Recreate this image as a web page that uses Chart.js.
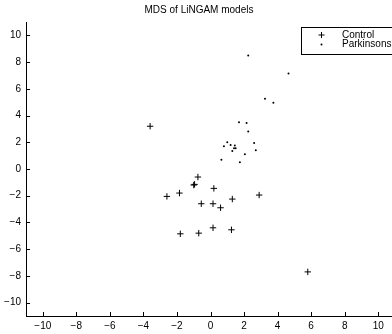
<!DOCTYPE html>
<html>
<head>
<meta charset="utf-8">
<script src="https://cdn.jsdelivr.net/npm/chart.js@4"></script>
<style>
  html, body { margin: 0; padding: 0; background: #fff; overflow: hidden; }
  #wrap { width: 400px; height: 334px; }
</style>
</head>
<body>
<div id="wrap"><canvas id="chart"></canvas></div>
<script>
const controlX = [-3.6, -0.75, -1.0, -0.95, 0.2, -1.85, -2.6, 1.3, 2.9, -0.55, 0.15, 0.6, -1.8, -0.7, 0.15, 1.25, 5.8]
const controlY = [3.2, -0.6, -1.2, -1.15, -1.45, -1.8, -2.05, -2.25, -1.95, -2.6, -2.6, -2.9, -4.85, -4.8, -4.4, -4.55, -7.7]
const parkX = [1.7, 2.15, 2.25, 1.0, 0.8, 1.2, 1.45, 1.5, 1.4, 1.3, 2.6, 2.7, 2.05, 0.65, 1.75, 2.25, 4.65, 3.25, 3.75]
const parkY = [3.5, 3.45, 2.8, 2.0, 1.7, 1.8, 1.75, 1.55, 1.55, 1.35, 1.95, 1.4, 1.1, 0.7, 0.5, 8.5, 7.15, 5.25, 4.95]
const xTicks = [-10, -8, -6, -4, -2, 0, 2, 4, 6, 8, 10]
const yTicks = [-10, -8, -6, -4, -2, 0, 2, 4, 6, 8, 10]

const FONT = "Liberation Sans, Arial, Helvetica, sans-serif"
const toPoints = (xs, ys) => xs.map((x, i) => ({ x, y: ys[i] }))
const fmt = (v) => v < 0 ? `\u2212${Math.abs(v)}` : `${v}`

// matlab style: ticks pointing into the plot and a boxed legend
const matlabBits = {
  id: "matlabBits",
  afterDraw(chart) {
    const ctx = chart.ctx
    const { left, bottom } = chart.chartArea
    const xs = chart.scales.x
    const ys = chart.scales.y
    ctx.save()
    ctx.strokeStyle = "#000"
    ctx.lineWidth = 1
    ctx.beginPath()
    xTicks.forEach((v) => {
      const px = Math.round(xs.getPixelForValue(v)) + 0.5
      ctx.moveTo(px, bottom)
      ctx.lineTo(px, bottom - 4)
    })
    yTicks.forEach((v) => {
      const py = Math.round(ys.getPixelForValue(v)) + 0.5
      ctx.moveTo(left, py)
      ctx.lineTo(left + 4, py)
    })
    ctx.stroke()

    const bx = 301.5, by = 27.5, bw = 96, bh = 27
    ctx.fillStyle = "#fff"
    ctx.fillRect(bx, by, bw, bh)
    ctx.strokeRect(bx, by, bw, bh)
    ctx.font = `10px ${FONT}`
    ctx.textBaseline = "middle"
    ctx.textAlign = "left"
    ctx.fillStyle = "#000"
    chart.data.datasets.forEach((ds, i) => {
      const cy = by + 7.5 + i * 9.5
      const mx = 321.5
      if (ds.pointStyle === "cross") {
        ctx.beginPath()
        ctx.moveTo(mx - 3, cy)
        ctx.lineTo(mx + 3, cy)
        ctx.moveTo(mx, cy - 3)
        ctx.lineTo(mx, cy + 3)
        ctx.stroke()
      } else {
        ctx.beginPath()
        ctx.arc(mx, cy, 1, 0, Math.PI * 2)
        ctx.fill()
      }
      ctx.fillText(ds.label, 342, cy)
    })
    ctx.restore()
  },
}

new Chart(document.getElementById("chart"), {
  type: "scatter",
  data: {
    datasets: [
      {
        label: "Control",
        data: toPoints(controlX, controlY),
        pointStyle: "cross",
        pointRadius: 3.2,
        pointBorderWidth: 1,
        borderColor: "#000",
        backgroundColor: "#000",
      },
      {
        label: "Parkinsons",
        data: toPoints(parkX, parkY),
        pointStyle: "circle",
        pointRadius: 1,
        pointBorderWidth: 0,
        borderColor: "#000",
        backgroundColor: "#000",
      },
    ],
  },
  options: {
    responsive: true,
    maintainAspectRatio: false,
    animation: false,
    layout: { padding: { top: 0, right: 2, left: 0, bottom: 0 } },
    plugins: {
      legend: { display: false },
      tooltip: { enabled: false },
      title: {
        display: true,
        text: "MDS of LiNGAM models",
        color: "#000",
        font: { family: FONT, size: 10, weight: "normal" },
        padding: { top: 4, bottom: 6 },
      },
    },
    scales: {
      x: {
        type: "linear",
        min: -11,
        max: 11,
        afterBuildTicks: (s) => { s.ticks = xTicks.map((v) => ({ value: v })) },
        afterFit: (s) => { s.height = 18 },
        grid: { display: true, drawOnChartArea: false, drawTicks: false },
        border: { display: true, color: "#000", width: 1 },
        ticks: { color: "#000", padding: 4, maxRotation: 0, font: { family: FONT, size: 10 }, callback: (v) => fmt(v) },
      },
      y: {
        type: "linear",
        min: -11,
        max: 11,
        afterBuildTicks: (s) => { s.ticks = yTicks.map((v) => ({ value: v })) },
        afterFit: (s) => { s.width = 26 },
        grid: { display: true, drawOnChartArea: false, drawTicks: false },
        border: { display: true, color: "#000", width: 1 },
        ticks: { color: "#000", padding: 5, font: { family: FONT, size: 10 }, callback: (v) => fmt(v) },
      },
    },
  },
  plugins: [matlabBits],
})
</script>
</body>
</html>
